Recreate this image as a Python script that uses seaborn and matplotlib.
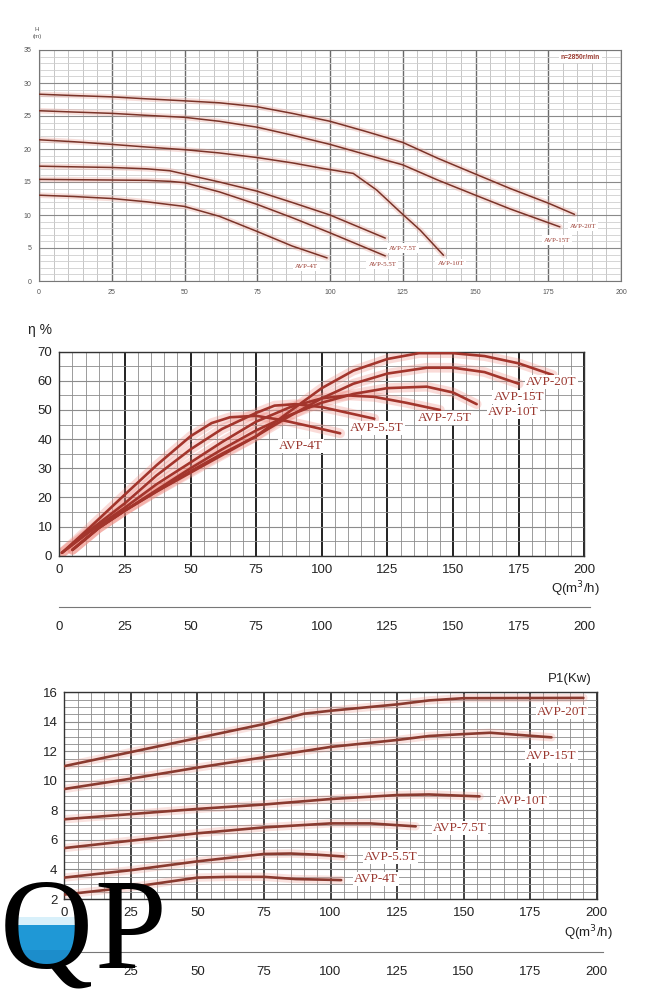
import matplotlib
matplotlib.use("Agg")
import matplotlib.pyplot as plt
import seaborn as sns
from matplotlib.patches import Circle, Rectangle
from matplotlib.ticker import MultipleLocator

sns.set_style("white")
plt.rcParams['font.family'] = ['Liberation Sans', 'DejaVu Sans']

models = ['AVP-4T', 'AVP-5.5T', 'AVP-7.5T', 'AVP-10T', 'AVP-15T', 'AVP-20T']

# head curves H(m) vs Q(m3/h)
h_q = {
    'AVP-4T': [0, 12, 25, 37, 50, 62, 75, 87, 99],
    'AVP-5.5T': [0, 12, 25, 37, 45, 50, 62, 75, 87, 100, 119],
    'AVP-7.5T': [0, 12, 25, 37, 45, 50, 62, 75, 87, 100, 119],
    'AVP-10T': [0, 12, 25, 37, 50, 62, 75, 87, 97, 108, 116, 124, 131, 139],
    'AVP-15T': [0, 12, 25, 37, 50, 62, 75, 87, 100, 112, 125, 137, 150, 162, 179],
    'AVP-20T': [0, 12, 25, 37, 50, 62, 75, 87, 100, 112, 125, 137, 150, 162, 175, 184],
}
h_val = {
    'AVP-4T': [13.0, 12.8, 12.5, 12.0, 11.3, 9.8, 7.5, 5.3, 3.5],
    'AVP-5.5T': [15.4, 15.35, 15.3, 15.25, 15.1, 14.9, 13.5, 11.6, 9.6, 7.3, 3.8],
    'AVP-7.5T': [17.4, 17.3, 17.2, 17.0, 16.7, 16.2, 15.0, 13.6, 11.9, 10.0, 6.5],
    'AVP-10T': [21.4, 21.1, 20.7, 20.3, 19.9, 19.4, 18.7, 17.9, 17.1, 16.3, 13.8, 10.5, 7.7, 3.9],
    'AVP-15T': [25.8, 25.6, 25.4, 25.1, 24.8, 24.2, 23.3, 22.1, 20.7, 19.2, 17.6, 15.3, 13.0, 10.9, 8.2],
    'AVP-20T': [28.3, 28.1, 27.9, 27.6, 27.3, 27.0, 26.4, 25.4, 24.2, 22.7, 21.0, 18.6, 16.2, 14.0, 11.8, 10.1],
}

# efficiency curves eta(%) vs Q
e_q = {
    'AVP-4T': [1, 12, 25, 37, 50, 58, 65, 75, 85, 95, 107],
    'AVP-5.5T': [1, 12, 25, 37, 50, 62, 75, 82, 90, 100, 110, 120],
    'AVP-7.5T': [1, 12, 25, 37, 50, 62, 75, 88, 100, 110, 120, 132, 145],
    'AVP-10T': [5, 15, 25, 37, 50, 62, 75, 87, 100, 112, 125, 140, 150, 159],
    'AVP-15T': [5, 15, 25, 37, 50, 62, 75, 87, 100, 112, 125, 140, 150, 162, 175],
    'AVP-20T': [5, 15, 25, 37, 50, 62, 75, 87, 100, 112, 125, 137, 150, 162, 175, 188],
}
e_val = {
    'AVP-4T': [1, 10, 21, 31, 41, 45.5, 47.5, 48, 46.5, 44.5, 42],
    'AVP-5.5T': [1, 9, 18, 27.5, 36.5, 43.5, 49, 51.5, 52, 51, 49, 47],
    'AVP-7.5T': [1, 8.5, 16.5, 24.5, 32, 39, 46, 51, 54, 55, 54.5, 52.5, 50],
    'AVP-10T': [2, 9.5, 15.5, 22.5, 30, 36.5, 43, 48, 52.5, 55.5, 57.5, 58, 56, 52],
    'AVP-15T': [2, 9.5, 15.5, 22, 29, 35, 41, 47.5, 54, 59, 62.5, 64.5, 64.5, 63, 59],
    'AVP-20T': [2, 9.5, 15.5, 22, 28.5, 34.5, 41, 49, 57.5, 63.5, 67.5, 69.5, 69.5, 68.5, 66, 62],
}

# power curves P1(kW) vs Q
p_q = {
    'AVP-4T': [0, 25, 50, 62, 75, 87, 100, 104],
    'AVP-5.5T': [0, 25, 50, 75, 85, 95, 105],
    'AVP-7.5T': [0, 25, 50, 75, 100, 115, 132],
    'AVP-10T': [0, 25, 50, 75, 100, 125, 137, 156],
    'AVP-15T': [0, 25, 50, 75, 100, 125, 137, 150, 160, 183],
    'AVP-20T': [0, 25, 50, 75, 90, 100, 125, 137, 150, 195],
}
p_val = {
    'AVP-4T': [2.3, 2.8, 3.45, 3.5, 3.5, 3.35, 3.3, 3.28],
    'AVP-5.5T': [3.45, 3.95, 4.55, 5.05, 5.08, 5.0, 4.88],
    'AVP-7.5T': [5.45, 5.95, 6.45, 6.85, 7.12, 7.12, 6.92],
    'AVP-10T': [7.4, 7.75, 8.1, 8.4, 8.77, 9.04, 9.08, 8.95],
    'AVP-15T': [9.45, 10.15, 10.9, 11.6, 12.3, 12.77, 13.04, 13.17, 13.26, 12.95],
    'AVP-20T': [11.0, 11.95, 12.9, 13.85, 14.55, 14.75, 15.18, 15.45, 15.6, 15.62],
}

# label positions (Q, value) per panel
h_lab = {'AVP-4T': (92, 2.2), 'AVP-5.5T': (118, 2.5), 'AVP-7.5T': (125, 5.0),
         'AVP-10T': (141.5, 2.7), 'AVP-15T': (178, 6.2), 'AVP-20T': (187, 8.3)}
e_lab = {'AVP-4T': (92, 37.6), 'AVP-5.5T': (121, 43.7), 'AVP-7.5T': (147, 47.1),
         'AVP-10T': (173, 49.2), 'AVP-15T': (175, 54.6), 'AVP-20T': (187.5, 59.5)}
p_lab = {'AVP-4T': (117, 3.35), 'AVP-5.5T': (122.5, 4.82), 'AVP-7.5T': (148.5, 6.79),
         'AVP-10T': (172, 8.66), 'AVP-15T': (183, 11.7), 'AVP-20T': (187, 14.69)}

q_ticks = list(range(0, 201, 25))

W, H = 652, 1000
fig = plt.figure(figsize=(6.52, 10), dpi=100)


def box(l, t, r, b):
    return [l / W, 1 - b / H, (r - l) / W, (b - t) / H]


def grid(ax, ymin, ymaj, ymaj_c, ymin_c, xmaj_c, xmin_c, lw_maj):
    ax.grid(False)
    for x in range(0, 201, 5):
        major = x % 25 == 0
        ax.axvline(x, color=xmaj_c if major else xmin_c,
                   lw=lw_maj if major else 0.6, zorder=0.5)
    y0, y1 = ax.get_ylim()
    k = 0
    y = y0
    while y <= y1 + 1e-9:
        major = abs((y / ymaj) - round(y / ymaj)) < 1e-6
        ax.axhline(y, color=ymaj_c if major else ymin_c,
                   lw=0.8 if major else 0.6, zorder=0.5)
        k += 1
        y = y0 + k * ymin


def curves(ax, qs, vs, col, glow, lw, glw, galpha):
    for m in models:
        sns.lineplot(x=qs[m], y=vs[m], ax=ax, color=glow, lw=glw, alpha=galpha,
                     zorder=2, solid_capstyle='round')
        sns.lineplot(x=qs[m], y=vs[m], ax=ax, color=col, lw=lw, zorder=3)


# ---------------- top: H-Q ----------------
ax1 = fig.add_axes(box(39, 50, 621, 281))
ax1.set_xlim(0, 200)
ax1.set_ylim(0, 35)
grid(ax1, 1, 5, '#8a8a8a', '#cfcfcf', '#6a6a6a', '#bdbdbd', 1.0)
curves(ax1, h_q, h_val, '#7a3328', '#e9a49a', 1.1, 4, 0.35)
for m in models:
    ax1.text(*h_lab[m], m, fontsize=5, color='#9a3b30', family='Liberation Serif',
             ha='center', va='center', zorder=4,
             bbox=dict(fc='white', ec='none', pad=1.5))
ax1.text(186, 33.8, 'n=2850r/min', fontsize=4.8, color='#9a3b30', fontweight='bold',
         ha='center', va='center', zorder=4, bbox=dict(fc='white', ec='none', pad=1.5))
ax1.set_xticks(q_ticks)
ax1.set_yticks(range(0, 36, 5))
ax1.tick_params(labelsize=5, colors='#555555', length=2, width=0.6)
for s in ax1.spines.values():
    s.set_color('#777777')
    s.set_linewidth(0.8)
fig.text(37 / W, 1 - 33 / H, 'H\n(m)', fontsize=4.5, color='#555555',
         ha='center', va='center', linespacing=1.3)

# ---------------- middle: eta-Q ----------------
ax2 = fig.add_axes(box(59.3, 351.7, 584.3, 555.7))
ax2.set_xlim(0, 200)
ax2.set_ylim(0, 70)
grid(ax2, 5, 10, '#8c8c8c', '#8c8c8c', '#222222', '#8c8c8c', 1.4)
curves(ax2, e_q, e_val, '#a3352c', '#f08a80', 1.9, 7, 0.3)
for m in models:
    ax2.text(*e_lab[m], m, fontsize=9.5, color='#9a3830', family='Liberation Serif',
             ha='center', va='center', zorder=4,
             bbox=dict(fc='white', ec='none', pad=0.8))
ax2.set_xticks(q_ticks)
ax2.set_yticks(range(0, 71, 10))
ax2.tick_params(axis='y', labelsize=9.5, colors='#222222', length=3, width=0.8, pad=2)
ax2.tick_params(axis='x', labelsize=9.5, colors='#222222', length=0, pad=6)
for s in ax2.spines.values():
    s.set_color('#333333')
    s.set_linewidth(1.0)
fig.text(28 / W, 1 - 330 / H, 'η %', fontsize=10, color='#222222', ha='left', va='center')
fig.text(600 / W, 1 - 589 / H, 'Q(m$^3$/h)', fontsize=9.5, color='#222222',
         ha='right', va='center')

ax2b = fig.add_axes(box(59.3, 606, 59.3 + 2.625 * 202.3, 607))
ax2b.set_xlim(0, 202.3)
ax2b.set_yticks([])
ax2b.set_xticks(q_ticks)
for k in ['top', 'left', 'right']:
    ax2b.spines[k].set_visible(False)
ax2b.spines['bottom'].set_color('#777777')
ax2b.tick_params(axis='x', labelsize=9.5, colors='#222222', length=5, width=0.7,
                 color='#777777', pad=5)
ax2b.patch.set_alpha(0)

# ---------------- bottom: P1-Q ----------------
ax3 = fig.add_axes(box(64.3, 692.3, 596.7, 899))
ax3.set_xlim(0, 200)
ax3.set_ylim(2, 16)
grid(ax3, 0.5, 2, '#8c8c8c', '#8c8c8c', '#333333', '#8c8c8c', 1.3)
curves(ax3, p_q, p_val, '#8a3a2f', '#f0a097', 1.9, 6, 0.3)
for m in models:
    ax3.text(*p_lab[m], m, fontsize=9.5, color='#9a3830', family='Liberation Serif',
             ha='center', va='center', zorder=4,
             bbox=dict(fc='white', ec='none', pad=0.8))
ax3.set_xticks(q_ticks)
ax3.set_yticks(range(2, 17, 2))
ax3.tick_params(axis='y', labelsize=9.5, colors='#222222', length=3, width=0.8, pad=2)
ax3.tick_params(axis='x', labelsize=9.5, colors='#222222', length=0, pad=6)
for s in ax3.spines.values():
    s.set_color('#333333')
    s.set_linewidth(1.0)
fig.text(570 / W, 1 - 679 / H, 'P1(Kw)', fontsize=9.5, color='#222222',
         ha='center', va='center')
fig.text(613 / W, 1 - 933 / H, 'Q(m$^3$/h)', fontsize=9.5, color='#222222',
         ha='right', va='center')

ax3b = fig.add_axes(box(64.3, 951, 64.3 + 2.66 * 202.6, 952))
ax3b.set_xlim(0, 202.6)
ax3b.set_yticks([])
ax3b.set_xticks(q_ticks)
for k in ['top', 'left', 'right']:
    ax3b.spines[k].set_visible(False)
ax3b.spines['bottom'].set_color('#777777')
ax3b.tick_params(axis='x', labelsize=9.5, colors='#222222', length=5, width=0.7,
                 color='#777777', pad=5)
ax3b.patch.set_alpha(0)

# ---------------- QP logo ----------------
axl = fig.add_axes([0, 0, 1, 1], zorder=10)
axl.set_xlim(0, W)
axl.set_ylim(H, 0)
axl.axis('off')
axl.patch.set_alpha(0)
inner = Circle((50, 931), 35, transform=axl.transData, fc='none', ec='none')
axl.add_patch(inner)
water = Rectangle((5, 925), 90, 60, fc='#1f98d6', ec='none')
axl.add_patch(water)
water.set_clip_path(inner)
deep = Rectangle((5, 950), 90, 40, fc='#1a86c4', ec='none', alpha=0.6)
axl.add_patch(deep)
deep.set_clip_path(inner)
foam = Rectangle((5, 917), 90, 8, fc='#d8f0fa', ec='none')
axl.add_patch(foam)
foam.set_clip_path(inner)
axl.text(0, 968, 'Q', fontsize=93, family='Liberation Serif', color='black',
         ha='left', va='baseline')
axl.text(94, 968, 'P', fontsize=93, family='Liberation Serif', color='black',
         ha='left', va='baseline')

fig.savefig('out.png', dpi=100)
